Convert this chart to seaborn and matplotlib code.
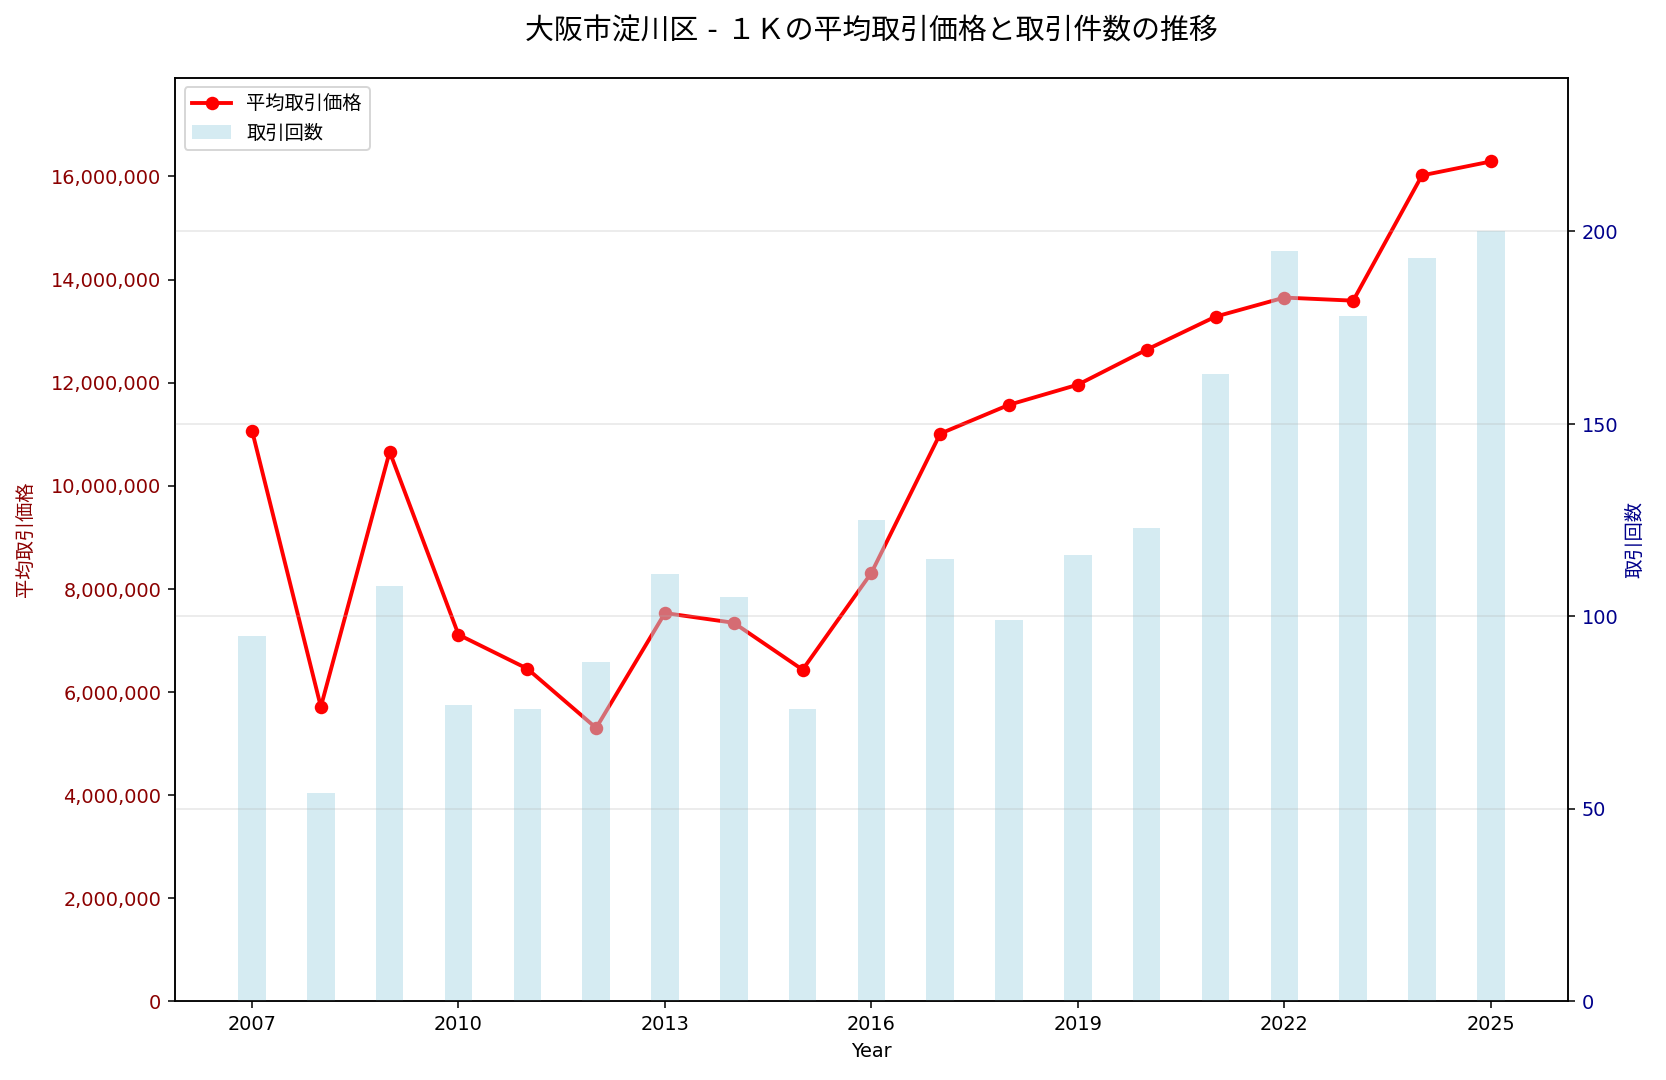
import numpy as np
import pandas as pd
import matplotlib
matplotlib.use("Agg")
import matplotlib.pyplot as plt
import matplotlib.ticker as mticker
import seaborn as sns

# ---- data ----
years = [2007, 2008, 2009, 2010, 2011, 2012, 2013, 2014, 2015, 2016,
         2017, 2018, 2019, 2020, 2021, 2022, 2023, 2024, 2025]
avg_price = [11070000, 5710000, 10660000, 7110000, 6450000, 5300000, 7530000,
             7340000, 6430000, 8310000, 11010000, 11570000, 11960000, 12640000,
             13280000, 13650000, 13590000, 16020000, 16290000]
trade_count = [95, 54, 108, 77, 76, 88, 111, 105, 76, 125,
               115, 99, 116, 123, 163, 195, 178, 193, 200]
x_ticks = [2007, 2010, 2013, 2016, 2019, 2022, 2025]

df = pd.DataFrame({"year": years, "price": avg_price, "count": trade_count})

# フォント設定（ラテン文字はDejaVu、日本語はNoto CJKへフォールバック）
plt.rcParams['font.family'] = ['DejaVu Sans', 'Noto Sans CJK JP']
plt.rcParams['axes.unicode_minus'] = False

fig, ax1 = plt.subplots(figsize=(12, 7.78), dpi=138.85)
fig.subplots_adjust(left=0.105, right=0.941, top=0.928, bottom=0.073)

# 平均取引価格（左軸）
sns.lineplot(data=df, x="year", y="price", ax=ax1, color="red",
             marker="o", markersize=7, linewidth=2, markeredgewidth=0,
             label="平均取引価格", legend=False)
ax1.set_ylim(0, max(avg_price) * 1.1)
ax1.set_ylabel("平均取引価格", color="darkred", labelpad=8)
ax1.tick_params(axis="y", labelcolor="darkred")
ax1.yaxis.set_major_formatter(mticker.FuncFormatter(lambda v, p: f"{int(v):,}"))

# 取引回数（右軸）
ax2 = ax1.twinx()
sns.barplot(data=df, x="year", y="count", ax=ax2, native_scale=True,
            width=0.4, color="lightblue", alpha=0.5, saturation=1,
            label="取引回数")
ax2.set_ylim(0, max(trade_count) * 1.2)
ax2.set_ylabel("取引回数", color="darkblue")
ax2.tick_params(axis="y", labelcolor="darkblue")
ax2.grid(axis="y", alpha=0.3)

ax1.set_xticks(x_ticks)
ax1.set_xticklabels([str(y) for y in x_ticks])
ax1.set_xlim(2005.88, 2026.12)
ax2.set_xlim(2005.88, 2026.12)
ax1.set_xlabel("Year")

h1, l1 = ax1.get_legend_handles_labels()
h2, l2 = ax2.get_legend_handles_labels()
if ax2.get_legend() is not None:
    ax2.get_legend().remove()
ax2.legend(h1 + h2, l1 + l2, loc="upper left")

ax1.set_title("大阪市淀川区 - １Ｋの平均取引価格と取引件数の推移", fontsize=15, pad=20)

fig.savefig("out.png", dpi=138.85)
